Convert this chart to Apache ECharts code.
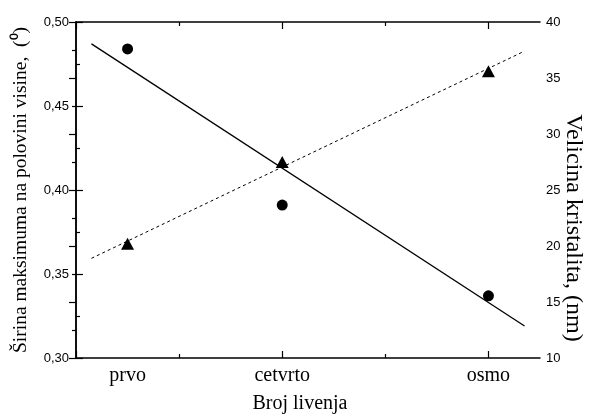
<!DOCTYPE html>
<html>
<head>
<meta charset="utf-8">
<script src="https://cdn.jsdelivr.net/npm/echarts@6/dist/echarts.min.js"></script>
<style>html,body{margin:0;padding:0;background:#fff}#c{width:591px;height:417px}</style>
</head>
<body>
<div id="c"></div>
<script>
// ---- data ----
const categories = ['prvo', 'cetvrto', 'osmo'];
const castingX = [1, 4, 8];
const fwhm = [0.484, 0.391, 0.337];          // left axis, circles
const crystalSize = [20.2, 27.5, 35.6];      // right axis, triangles
const fitX = [0.3, 8.7];
const fwhmFit = [0.487, 0.319];              // solid fit line
const sizeFit = [18.9, 37.4];                // dashed fit line
const xMajorTicks = [0, 4, 8];
const xMinorTicks = [2, 6];

const serif = '"Liberation Serif", "Times New Roman", serif';
const sans = '"Liberation Sans", Arial, sans-serif';
const black = '#000';
const lineW = 1.5;

function tickAxis(pos, ticks, len, showLine) {
  return {
    type: 'value', position: pos, min: 0, max: 9,
    axisLine: { show: showLine, lineStyle: { color: black, width: lineW } },
    axisTick: { show: true, inside: true, length: len, customValues: ticks, lineStyle: { color: black, width: 1.2 } },
    axisLabel: { show: false },
    splitLine: { show: false }
  };
}

const chart = echarts.init(document.getElementById('c'));
chart.setOption({
  animation: false,
  backgroundColor: '#fff',
  grid: { left: 76, right: 51, top: 22, bottom: 59, containLabel: false, outerBoundsMode: 'none' },
  xAxis: [
    {
      type: 'value', position: 'bottom', min: 0, max: 9,
      axisLine: { show: true, lineStyle: { color: black, width: lineW } },
      axisTick: { show: true, inside: true, length: 7, customValues: xMajorTicks, lineStyle: { color: black, width: 1.2 } },
      axisLabel: {
        show: true, customValues: castingX, margin: 8,
        formatter: v => categories[castingX.indexOf(v)] || '',
        fontFamily: serif, fontSize: 20, color: black
      },
      splitLine: { show: false },
      name: 'Broj livenja', nameLocation: 'middle', nameGap: 36,
      nameTextStyle: { fontFamily: serif, fontSize: 20, color: black, padding: [0, 16, 0, 0] }
    },
    tickAxis('bottom', xMinorTicks, 4, false),
    tickAxis('top', xMajorTicks, 7, true),
    tickAxis('top', xMinorTicks, 4, false)
  ],
  yAxis: [
    {
      type: 'value', position: 'left', min: 0.30, max: 0.50, interval: 0.05,
      axisLine: { show: true, lineStyle: { color: black, width: lineW } },
      axisTick: { show: true, inside: true, length: 7, lineStyle: { color: black, width: 1.2 } },
      minorTick: { show: true, splitNumber: 2, length: 4, lineStyle: { color: black, width: 1.2 } },
      axisLabel: { formatter: v => v.toFixed(2).replace('.', ','), fontFamily: sans, fontSize: 13, color: black, margin: 7 },
      splitLine: { show: false },
      name: 'Širina maksimuma na polovini visine,  (⁰)', nameLocation: 'middle', nameGap: 45,
      nameMoveOverlap: false,
      nameTextStyle: { fontFamily: serif, fontSize: 19.5, color: black }
    },
    {
      type: 'value', position: 'right', min: 10, max: 40, interval: 5,
      axisLine: { show: true, lineStyle: { color: black, width: lineW } },
      axisTick: { show: true, inside: true, length: 7, lineStyle: { color: black, width: 1.2 } },
      minorTick: { show: true, splitNumber: 2, length: 4, lineStyle: { color: black, width: 1.2 } },
      axisLabel: { fontFamily: sans, fontSize: 13, color: black, margin: 6 },
      splitLine: { show: false },
      name: 'Velicina kristalita, (nm)', nameLocation: 'middle', nameGap: 21, nameRotate: -90,
      nameMoveOverlap: false,
      nameTextStyle: { fontFamily: serif, fontSize: 24, color: black, padding: [0, 0, 0, 76] }
    }
  ],
  series: [
    {
      type: 'line', xAxisIndex: 0, yAxisIndex: 0, showSymbol: false, silent: true,
      data: fitX.map((x, i) => [x, fwhmFit[i]]),
      lineStyle: { color: black, width: 1.3, type: 'solid' }
    },
    {
      type: 'line', xAxisIndex: 0, yAxisIndex: 1, showSymbol: false, silent: true,
      data: fitX.map((x, i) => [x, sizeFit[i]]),
      lineStyle: { color: black, width: 1, type: [3, 3] }
    },
    {
      type: 'scatter', xAxisIndex: 0, yAxisIndex: 0, symbol: 'circle', symbolSize: 11,
      data: castingX.map((x, i) => [x, fwhm[i]]),
      itemStyle: { color: black, opacity: 1 }
    },
    {
      type: 'scatter', xAxisIndex: 0, yAxisIndex: 1, symbol: 'triangle', symbolSize: [13, 12],
      data: castingX.map((x, i) => [x, crystalSize[i]]),
      itemStyle: { color: black, opacity: 1 }
    }
  ]
});
</script>
</body>
</html>
